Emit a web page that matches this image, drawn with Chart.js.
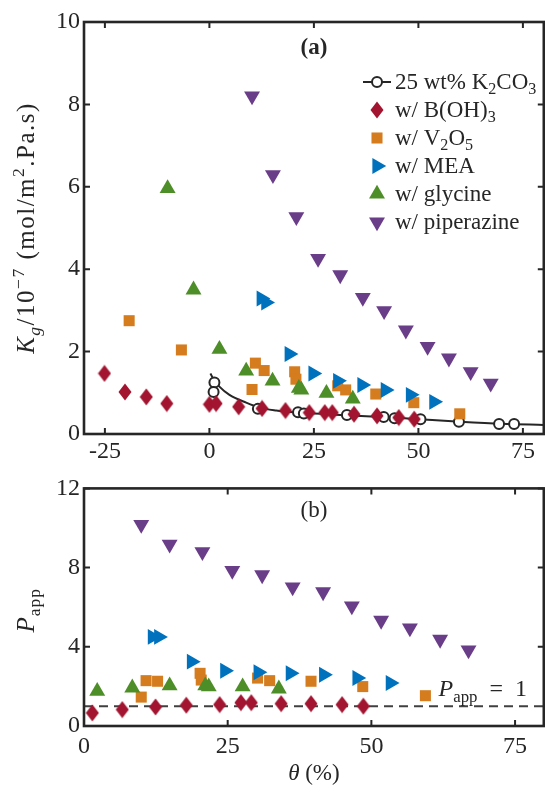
<!DOCTYPE html>
<html>
<head>
<meta charset="utf-8">
<script src="https://cdn.jsdelivr.net/npm/chart.js@4.4.1/dist/chart.umd.min.js"></script>
<style>
  html, body { margin: 0; padding: 0; background: #fff; overflow: hidden; }
  #wrap { position: relative; width: 545px; height: 792px; overflow: hidden; }
  canvas { position: absolute; left: 0; }
</style>
</head>
<body>
<div id="wrap">
  <canvas id="kg" width="553" height="470" style="top:0"></canvas>
  <canvas id="papp" width="553" height="322" style="top:470px"></canvas>
</div>
<script>
// (a) Kg / 1e-7 vs theta (%)
const k2co3X = [1.2, 1.0, 11.6, 21.2, 22.6, 32.9, 41.7, 44.3, 50.5, 59.7, 69.3, 72.9];
const k2co3Y = [1.25, 1.02, 0.61, 0.53, 0.50, 0.46, 0.41, 0.38, 0.36, 0.30, 0.24, 0.24];
const fitX = [0.24, 1, 2.4, 4.8, 8.8, 12, 16, 20, 25, 30, 40, 50, 60, 70, 80];
const fitY = [1.47, 1.33, 1.15, 0.95, 0.76, 0.64, 0.57, 0.53, 0.50, 0.47, 0.42, 0.36, 0.30, 0.25, 0.22];
const borX = [-25.1, -20.2, -15.1, -10.2, 0, 1.6, 7.0, 12.6, 18.2, 23.9, 27.6, 29.4, 34.6, 40.1, 45.3, 49.0];
const borY = [1.47, 1.02, 0.90, 0.74, 0.72, 0.74, 0.66, 0.62, 0.57, 0.52, 0.52, 0.52, 0.48, 0.44, 0.40, 0.36];
const vanX = [-19.2, -6.7, 11.0, 13.1, 10.2, 20.4, 20.7, 30.7, 32.6, 39.8, 48.9, 59.9];
const vanY = [2.75, 2.04, 1.72, 1.54, 1.08, 1.51, 1.33, 1.17, 1.07, 0.97, 0.76, 0.49];
const meaX = [12.4, 13.5, 19.1, 24.8, 30.7, 36.5, 42.1, 48.1, 53.7];
const meaY = [3.29, 3.19, 1.94, 1.47, 1.29, 1.19, 1.07, 0.95, 0.78];
const glyX = [-10.0, -3.8, 2.4, 8.8, 15.1, 21.4, 22.0, 28.0, 34.3];
const glyY = [5.96, 3.50, 2.06, 1.53, 1.29, 1.11, 1.07, 0.99, 0.85];
const pipX = [10.2, 15.2, 20.8, 26.0, 31.3, 36.7, 41.8, 47.0, 52.2, 57.3, 62.5, 67.3];
const pipY = [8.20, 6.29, 5.27, 4.26, 3.86, 3.31, 2.99, 2.52, 2.12, 1.84, 1.51, 1.23];

// (b) P_app vs theta (%)
const borPX = [1.45, 6.66, 12.45, 17.8, 23.6, 27.3, 29.1, 34.3, 39.5, 44.9, 48.6];
const borPY = [0.66, 0.83, 0.96, 1.05, 1.08, 1.18, 1.18, 1.13, 1.13, 1.08, 1.00];
const vanPX = [10.8, 12.8, 9.96, 20.2, 20.4, 30.2, 32.3, 39.5, 48.5, 59.4];
const vanPY = [2.29, 2.26, 1.46, 2.66, 2.32, 2.42, 2.29, 2.26, 1.99, 1.53];
const meaPX = [11.9, 13.0, 18.7, 24.5, 30.3, 35.9, 41.7, 47.5, 53.3];
const meaPY = [4.5, 4.5, 3.25, 2.79, 2.71, 2.66, 2.59, 2.42, 2.17];
const glyPX = [2.3, 8.4, 14.9, 21.1, 21.7, 27.6, 33.9];
const glyPY = [1.76, 1.93, 2.04, 2.04, 1.99, 1.99, 1.88];
const pipPX = [9.96, 14.9, 20.6, 25.8, 31.0, 36.3, 41.6, 46.6, 51.7, 56.7, 61.96, 66.9];
const pipPY = [10.17, 9.18, 8.8, 7.85, 7.63, 7.02, 6.77, 6.06, 5.33, 4.95, 4.37, 3.83];
const refX = [0, 80];
const refY = [1, 1];

const ticksXa = [-25, 0, 25, 50, 75];
const ticksYa = [0, 2, 4, 6, 8, 10];
const ticksXb = [0, 25, 50, 75];
const ticksYb = [0, 4, 8, 12];

const ink = '#262626';
const serif = '"Liberation Serif", "DejaVu Serif", serif';
const col = { red: '#A2142F', orange: '#D47C1E', blue: '#0072BD', green: '#4E8E28', purple: '#6A3D88' };

const zip = (xs, ys) => xs.map((x, i) => ({ x: x, y: ys[i] }));

// tall diamond, MATLAB style
function diamond(color) {
    const c = document.createElement('canvas');
    c.width = 14; c.height = 18;
    const g = c.getContext('2d');
    g.fillStyle = color;
    g.beginPath();
    g.moveTo(7, 0.5); g.lineTo(13.5, 9); g.lineTo(7, 17.5); g.lineTo(0.5, 9);
    g.closePath();
    g.fill();
    return c;
}
const diamondRed = diamond(col.red);

function marks(label, data, color, style, extra) {
    return Object.assign({
        label: label, data: data, showLine: false,
        pointStyle: style.name, pointRotation: style.rot || 0,
        pointRadius: style.r, pointHoverRadius: style.r,
        backgroundColor: color, borderColor: color, pointBorderWidth: 0
    }, extra || {});
}
const sBor = { name: diamondRed, r: 9 };
const sVan = { name: 'rect', r: 7.8 };
const sMea = { name: 'triangle', r: 9.2, rot: 90 };
const sGly = { name: 'triangle', r: 9.2 };
const sPip = { name: 'triangle', r: 9.2, rot: 180 };

// text with italics and sub/superscripts
function fontFor(s, size) {
    const sz = (s.sub || s.sup) ? size * 0.7 : size;
    return (s.i ? 'italic ' : '') + (s.b ? 'bold ' : '') + sz + 'px ' + serif;
}
function drawRich(ctx, segs, x, y, size, align, angle, spacing) {
    ctx.save();
    ctx.translate(x, y);
    if (angle) ctx.rotate(angle);
    ctx.textBaseline = 'alphabetic';
    ctx.textAlign = 'left';
    ctx.fillStyle = ink;
    ctx.letterSpacing = (spacing || 0) + 'px';
    let w = 0;
    for (const s of segs) { ctx.font = fontFor(s, size); w += ctx.measureText(s.t).width; }
    let cx = align === 'center' ? -w / 2 : 0;
    for (const s of segs) {
        ctx.font = fontFor(s, size);
        const dy = s.sub ? size * 0.22 : s.sup ? -size * 0.4 : 0;
        ctx.fillText(s.t, cx, dy);
        cx += ctx.measureText(s.t).width;
    }
    ctx.restore();
}

const frame = {
    id: 'frame',
    afterDraw(chart) {
        const { ctx, chartArea: a, scales: { x, y } } = chart;
        ctx.save();
        ctx.strokeStyle = ink;
        ctx.lineWidth = 2;
        ctx.beginPath();
        for (const t of x.ticks) {
            const px = x.getPixelForValue(t.value);
            ctx.moveTo(px, a.bottom); ctx.lineTo(px, a.bottom - 6);
            ctx.moveTo(px, a.top); ctx.lineTo(px, a.top + 6);
        }
        for (const t of y.ticks) {
            const py = y.getPixelForValue(t.value);
            ctx.moveTo(a.left, py); ctx.lineTo(a.left + 6, py);
            ctx.moveTo(a.right, py); ctx.lineTo(a.right - 6, py);
        }
        ctx.stroke();
        ctx.lineWidth = 2.6;
        ctx.strokeRect(a.left, a.top, a.right - a.left, a.bottom - a.top);
        ctx.restore();
    }
};

function axes(xmin, xmax, xt, ymin, ymax, yt, xh, xpad) {
    const font = { family: serif, size: 24 };
    return {
        x: {
            type: 'linear', min: xmin, max: xmax,
            afterBuildTicks: s => { s.ticks = xt.map(v => ({ value: v })); },
            afterFit: s => { s.height = xh; },
            grid: { display: false, drawTicks: false }, border: { display: false },
            ticks: { font: font, color: ink, padding: xpad, maxRotation: 0 }
        },
        y: {
            min: ymin, max: ymax,
            afterBuildTicks: s => { s.ticks = yt.map(v => ({ value: v })); },
            afterFit: s => { s.width = 84; },
            grid: { display: false, drawTicks: false }, border: { display: false },
            ticks: { font: font, color: ink, padding: 4 }
        }
    };
}

const legendRows = [
    [{ t: '25 wt% K' }, { t: '2', sub: true }, { t: 'CO' }, { t: '3', sub: true }],
    [{ t: 'w/ B(OH)' }, { t: '3', sub: true }],
    [{ t: 'w/ V' }, { t: '2', sub: true }, { t: 'O' }, { t: '5', sub: true }],
    [{ t: 'w/ MEA' }],
    [{ t: 'w/ glycine' }],
    [{ t: 'w/ piperazine' }]
];
const legendMarks = [null, [sBor, col.red], [sVan, col.orange], [sMea, col.blue], [sGly, col.green], [sPip, col.purple]];

const annotA = {
    id: 'annotA',
    afterDraw(chart) {
        const { ctx, chartArea: a } = chart;
        drawRich(ctx, [{ t: '(a)', b: true }], (a.left + a.right) / 2, a.top + 32, 23, 'center');
        drawRich(ctx, [{ t: 'K', i: true }, { t: 'g', i: true, sub: true }, { t: '/10' }, { t: '\u22127', sup: true },
            { t: ' (mol/m' }, { t: '2', sup: true }, { t: '.Pa.s)' }],
            34, (a.top + a.bottom) / 2, 25, 'center', -Math.PI / 2, 1.5);
        // legend
        const mx = 377;
        ctx.save();
        legendRows.forEach((row, i) => {
            const cy = a.top + 60 + i * 28;
            if (i === 0) {
                ctx.strokeStyle = ink; ctx.lineWidth = 2;
                ctx.beginPath(); ctx.moveTo(mx - 14, cy); ctx.lineTo(mx + 14, cy); ctx.stroke();
                ctx.fillStyle = '#fff';
                Chart.helpers.drawPoint(ctx, { pointStyle: 'circle', radius: 5, borderWidth: 2 }, mx, cy);
            } else {
                const [st, c] = legendMarks[i];
                ctx.fillStyle = c; ctx.strokeStyle = c;
                Chart.helpers.drawPoint(ctx, { pointStyle: st.name, radius: st.r, rotation: st.rot || 0, borderWidth: 0 }, mx, cy);
            }
            drawRich(ctx, row, mx + 18, cy + 7, 23, 'left');
        });
        ctx.restore();
    }
};

const annotB = {
    id: 'annotB',
    afterDraw(chart) {
        const { ctx, chartArea: a, scales: { x, y } } = chart;
        drawRich(ctx, [{ t: '(b)' }], (a.left + a.right) / 2, a.top + 29, 23, 'center');
        drawRich(ctx, [{ t: 'P', i: true }, { t: 'app', sub: true }], 34, (a.top + a.bottom) / 2 + 3, 25, 'center', -Math.PI / 2, 1);
        drawRich(ctx, [{ t: '\u03b8', i: true }, { t: ' (%)' }], (a.left + a.right) / 2, a.bottom + 54, 23, 'center');
        drawRich(ctx, [{ t: 'P', i: true }, { t: 'app', sub: true }, { t: '\u2002=\u20021' }], x.getPixelForValue(61.7), y.getPixelForValue(1.5), 24, 'left');
    }
};

new Chart(document.getElementById('kg'), {
    type: 'scatter',
    data: {
        datasets: [
            { label: 'fit', data: zip(fitX, fitY), showLine: true, pointRadius: 0, borderColor: ink, borderWidth: 2, cubicInterpolationMode: 'monotone', order: 7 },
            { label: '25 wt% K2CO3', data: zip(k2co3X, k2co3Y), pointStyle: 'circle', pointRadius: 5, pointBorderWidth: 2, borderColor: ink, backgroundColor: '#fff', order: 6 },
            marks('w/ B(OH)3', zip(borX, borY), col.red, sBor, { order: 5 }),
            marks('w/ V2O5', zip(vanX, vanY), col.orange, sVan, { order: 4 }),
            marks('w/ MEA', zip(meaX, meaY), col.blue, sMea, { order: 3 }),
            marks('w/ glycine', zip(glyX, glyY), col.green, sGly, { order: 2 }),
            marks('w/ piperazine', zip(pipX, pipY), col.purple, sPip, { order: 1 })
        ]
    },
    options: {
        responsive: false, animation: false, devicePixelRatio: 1,
        layout: { padding: { top: 22, right: 2, left: 0, bottom: 0 } },
        scales: axes(-30, 80, ticksXa, 0, 10, ticksYa, 36, 3),
        plugins: { legend: { display: false }, tooltip: { enabled: false } },
        clip: false
    },
    plugins: [frame, annotA]
});

new Chart(document.getElementById('papp'), {
    type: 'scatter',
    data: {
        datasets: [
            { label: 'P_app = 1', data: zip(refX, refY), showLine: true, pointRadius: 0, borderColor: '#404040', borderWidth: 2, borderDash: [9, 6], order: 7 },
            marks('w/ B(OH)3', zip(borPX, borPY), col.red, sBor, { order: 5 }),
            marks('w/ V2O5', zip(vanPX, vanPY), col.orange, sVan, { order: 4 }),
            marks('w/ MEA', zip(meaPX, meaPY), col.blue, sMea, { order: 3 }),
            marks('w/ glycine', zip(glyPX, glyPY), col.green, sGly, { order: 2 }),
            marks('w/ piperazine', zip(pipPX, pipPY), col.purple, sPip, { order: 1 })
        ]
    },
    options: {
        responsive: false, animation: false, devicePixelRatio: 1,
        layout: { padding: { top: 14, right: 2, left: 0, bottom: 0 } },
        scales: axes(0, 80, ticksXb, 0, 12, ticksYb, 66, 6),
        plugins: { legend: { display: false }, tooltip: { enabled: false } },
        clip: false
    },
    plugins: [frame, annotB]
});
</script>
</body>
</html>
